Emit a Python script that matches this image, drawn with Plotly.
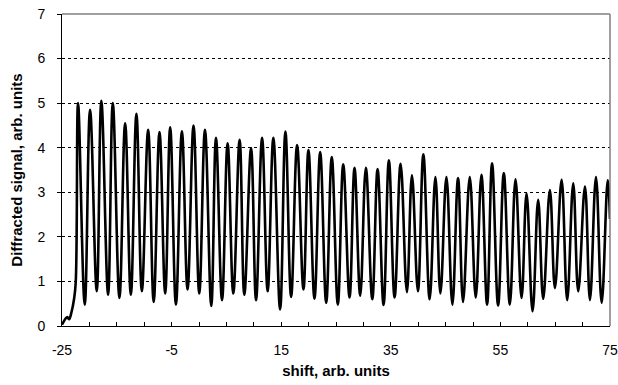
import plotly.graph_objects as go

# Lead-in (rising edge before first fringe)
lead_x = [-25.0, -24.03, -23.72, -23.23, -22.81, -22.5]
lead_y = [0.03, 0.2, 0.15, 0.33, 0.6, 0.97]

# Fringe maxima
peak_x = [-22.07, -19.88, -17.82, -15.73, -13.48, -11.42, -9.28, -7.21, -5.26, -3.12,
          -1.0, 1.09, 3.1, 5.22, 7.41, 9.5, 11.51, 13.57, 15.77, 17.9,
          19.97, 22.11, 24.23, 26.32, 28.38, 30.45, 32.59, 34.65, 36.79, 38.86,
          40.94, 43.14, 45.15, 47.27, 49.41, 51.54, 53.48, 55.62, 57.76, 59.77,
          61.89, 64.03, 66.17, 68.29, 70.43, 72.44, 74.58]
peak_y = [5.0, 4.85, 5.05, 5.0, 4.55, 4.76, 4.4, 4.35, 4.46, 4.37,
          4.5, 4.4, 4.22, 4.1, 4.18, 3.99, 4.22, 4.22, 4.36, 4.06,
          3.95, 3.9, 3.79, 3.63, 3.55, 3.55, 3.52, 3.72, 3.64, 3.38,
          3.85, 3.34, 3.34, 3.32, 3.34, 3.39, 3.65, 3.43, 3.29, 2.97,
          2.83, 3.05, 3.28, 3.2, 3.13, 3.34, 3.27]

# Fringe minima
valley_x = [-20.85, -18.66, -16.59, -14.52, -12.44, -10.43, -8.27, -6.17, -4.21, -2.09,
            0.05, 2.24, 4.2, 6.26, 8.27, 10.41, 12.53, 14.8, 16.81, 19.06,
            21.07, 23.21, 25.33, 27.47, 29.42, 31.62, 33.68, 35.69, 37.94, 39.95,
            42.09, 44.05, 46.24, 48.18, 50.5, 52.57, 54.58, 56.72, 58.86, 60.87,
            62.81, 64.95, 67.19, 69.2, 71.34, 73.48]
valley_y = [0.48, 0.78, 0.7, 0.63, 0.7, 0.78, 0.54, 0.73, 0.48, 0.82,
            0.73, 0.45, 0.58, 0.73, 0.7, 0.58, 0.78, 0.37, 0.65, 0.82,
            0.61, 0.52, 0.48, 0.64, 0.68, 0.6, 0.47, 0.64, 0.76, 0.78,
            0.6, 0.73, 0.48, 0.54, 0.64, 0.48, 0.46, 0.48, 0.63, 0.33,
            0.61, 0.85, 0.58, 0.78, 0.58, 0.52]

# Last sample at the right edge
tail_x = [75.0]
tail_y = [2.4]

xs = list(lead_x)
ys = list(lead_y)
for i in range(len(peak_x)):
    xs.append(peak_x[i]); ys.append(peak_y[i])
    if i < len(valley_x):
        xs.append(valley_x[i]); ys.append(valley_y[i])
xs += tail_x
ys += tail_y

FONT = "Liberation Sans, Arial, sans-serif"

fig = go.Figure()
fig.add_trace(go.Scatter(
    x=xs, y=ys, mode="lines",
    line=dict(color="black", width=2.6, shape="spline", smoothing=1.15),
    showlegend=False, hoverinfo="skip",
))

x_tickvals = list(range(-25, 80, 5))
x_ticktext = [str(v) if (v + 25) % 20 == 0 else "" for v in x_tickvals]

fig.update_layout(
    width=618, height=385,
    margin=dict(l=62, r=8, t=14, b=59, autoexpand=False),
    paper_bgcolor="white", plot_bgcolor="white",
    font=dict(family=FONT, size=14, color="black"),
    xaxis=dict(
        range=[-25, 75], tickmode="array", tickvals=x_tickvals, ticktext=x_ticktext,
        ticks="inside", ticklen=4, tickcolor="black", tickwidth=1,
        showline=True, linecolor="black", linewidth=1,
        showgrid=False, zeroline=False, automargin=False,
        ticklabelstandoff=11,
        tickfont=dict(family=FONT, size=14),
        title=dict(text="<b>shift, arb. units</b>", font=dict(family=FONT, size=15), standoff=8),
    ),
    yaxis=dict(
        range=[0, 7], tickmode="linear", tick0=0, dtick=1,
        ticks="outside", ticklen=4, tickcolor="black", tickwidth=1,
        showline=True, linecolor="black", linewidth=1,
        showgrid=True, gridcolor="black", griddash="dot", gridwidth=1,
        zeroline=False, automargin=False,
        ticklabelstandoff=9,
        tickfont=dict(family=FONT, size=14),
        title=dict(text="<b>Diffracted signal, arb. units</b>", font=dict(family=FONT, size=15), standoff=11),
    ),
    shapes=[
        dict(type="line", xref="paper", yref="paper", x0=0, x1=1, y0=1, y1=1,
             line=dict(color="#808080", width=1.5), layer="above"),
        dict(type="line", xref="paper", yref="paper", x0=1, x1=1, y0=0, y1=1,
             line=dict(color="#808080", width=1.5), layer="above"),
    ],
)

fig.write_html(
    "out.html",
    config={"displayModeBar": False},
    post_script="document.body.style.margin='0';document.body.style.padding='0';",
)
